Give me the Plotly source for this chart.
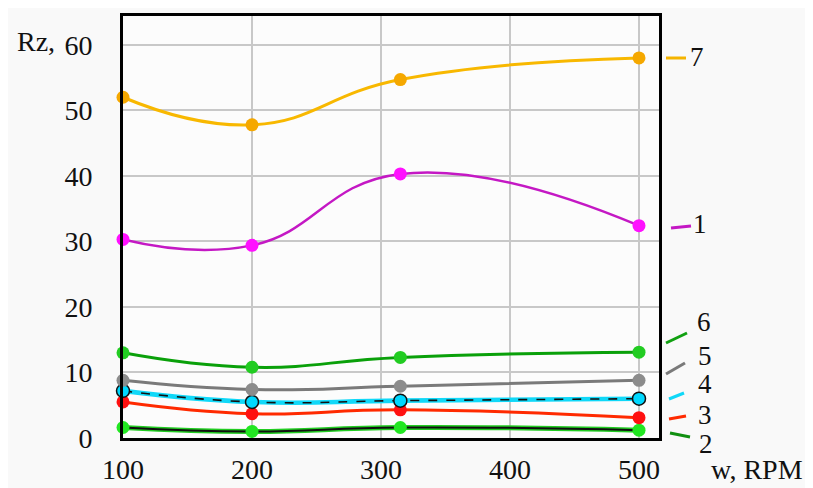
import plotly.graph_objects as go

rpm = [100, 200, 315, 500]
s7 = [52.0, 47.8, 54.7, 58.0]
s1 = [30.3, 29.4, 40.3, 32.4]
s6 = [13.0, 10.8, 12.3, 13.1]
s5 = [8.8, 7.4, 7.9, 8.8]
s4 = [7.2, 5.5, 5.7, 6.0]
s3 = [5.5, 3.7, 4.3, 3.1]
s2 = [1.6, 1.0, 1.6, 1.2]

x_ticks = [100, 200, 300, 400, 500]
y_ticks = [0, 10, 20, 30, 40, 50, 60]

FONT = "Liberation Serif"
OFF = 8  # default page body margin
W, H = 813 - OFF, 488 - OFF
L, R, T, B = 123 - OFF, 659 - OFF, 16 - OFF, 438 - OFF

fig = go.Figure()

def add(y, line_color, marker_color, width=3, outline=None, dash=None, mline=None):
    if outline:
        fig.add_trace(go.Scatter(x=rpm, y=y, mode="lines",
                                 line=dict(color=outline, width=width + 3, shape="spline", smoothing=1.3),
                                 hoverinfo="skip", showlegend=False, cliponaxis=False))
    fig.add_trace(go.Scatter(x=rpm, y=y, mode="lines+markers",
                             line=dict(color=line_color, width=width, shape="spline", smoothing=1.3, dash=dash),
                             marker=dict(size=13, color=marker_color, line=mline or dict(width=0)),
                             showlegend=False, cliponaxis=False))

add(s2, "#101010", "#22e622", width=2, outline="#22cc22")
add(s3, "#ff2a00", "#ff1010")
add(s4, "#111111", "#00d8ff", width=1.6, outline="#10d8f8", dash="dash", mline=dict(color="#111111", width=1.5))
add(s5, "#7a7a7a", "#8c8c8c")
add(s6, "#0aa00a", "#22cc22")
add(s1, "#c418c4", "#ff10ff", width=2.5)
add(s7, "#f8b800", "#f5a800", width=3)

def px(xp):
    return (xp - OFF - L) / (R - L)

def py(yp):
    return (B - (yp - OFF)) / (B - T)

labels = [
    ("7", (666, 58), (686, 58), "#f5b400", (697, 57)),
    ("1", (671, 228), (691, 226), "#c418c4", (700, 224)),
    ("6", (666, 343), (687, 333), "#11a011", (704, 322)),
    ("5", (666, 374), (685, 363), "#7a7a7a", (705, 356)),
    ("4", (669, 399), (684, 393), "#10d8f8", (705, 384)),
    ("3", (669, 419), (686, 416), "#ff2a00", (705, 415)),
    ("2", (670, 433), (690, 437), "#119011", (706, 444)),
]
for txt, p0, p1, col, tp in labels:
    fig.add_shape(type="line", xref="paper", yref="paper",
                  x0=px(p0[0]), y0=py(p0[1]), x1=px(p1[0]), y1=py(p1[1]),
                  line=dict(color=col, width=3))
    fig.add_annotation(text=txt, xref="paper", yref="paper", x=px(tp[0]), y=py(tp[1]),
                       showarrow=False, xanchor="center", yanchor="middle",
                       font=dict(family=FONT, size=27, color="#111111"))

fig.add_annotation(text="Rz,", xref="paper", yref="paper", x=px(36), y=py(42),
                   showarrow=False, xanchor="center", yanchor="middle",
                   font=dict(family=FONT, size=28, color="#111111"))
fig.add_annotation(text="w, RPM", xref="paper", yref="paper", x=px(757), y=py(470),
                   showarrow=False, xanchor="center", yanchor="middle",
                   font=dict(family=FONT, size=28, color="#111111"))

fig.update_layout(
    width=W, height=H,
    margin=dict(l=L, r=W - R, t=T, b=H - B, autoexpand=False),
    paper_bgcolor="#f9f9f9", plot_bgcolor="#fcfcfc",
    font=dict(family=FONT, size=28, color="#111111"),
    showlegend=False,
)
fig.update_xaxes(range=[100, 515.5], tickvals=x_ticks, ticktext=[str(v) for v in x_ticks],
                 showgrid=True, gridcolor="#c8c8c8", gridwidth=1.5,
                 showline=True, linecolor="#000000", linewidth=3, mirror=True,
                 ticks="", ticklabelstandoff=4, zeroline=False)
fig.update_yaxes(range=[0, 64.4], tickvals=y_ticks, ticktext=[str(v) for v in y_ticks],
                 showgrid=True, gridcolor="#c8c8c8", gridwidth=1.5,
                 showline=True, linecolor="#000000", linewidth=3, mirror=True,
                 ticks="", ticklabelstandoff=22, zeroline=False)

fig.write_html("out.html")
